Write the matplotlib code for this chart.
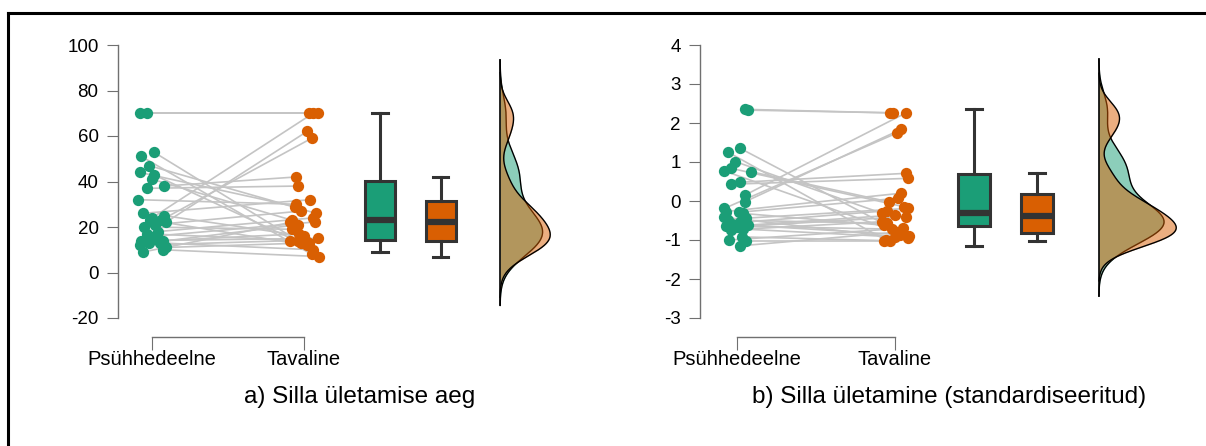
import numpy as np
import matplotlib.pyplot as plt
from matplotlib.lines import Line2D

plt.rcParams['font.family'] = ['Liberation Sans', 'DejaVu Sans']

groups = ["Psühhedeelne", "Tavaline"]
green = "#1B9E77"
orange = "#D95F02"

# ----- panel a: raw crossing time (paired per participant) -----
a_psy = [70, 70, 24, 22, 23, 53, 51, 47, 44, 43, 41, 38, 37, 32, 26,
         25, 23, 21, 20, 18, 17, 16, 14, 14, 13, 13, 12, 11, 10, 9]
a_reg = [70, 70, 70, 62, 59, 14, 8, 26, 29, 13, 23, 42, 38, 30, 32,
         16, 12, 27, 19, 24, 14, 22.2, 15, 17, 10, 21, 14, 13, 7, 22]

# ----- panel b: standardised -----
b_psy = [2.35, 2.33, 0.15, -0.02, -0.19, 1.35, 1.26, 1.01, 0.84, 0.77, 0.75, 0.48, 0.43, -0.27, -0.29,
         -0.32, -0.42, -0.44, -0.49, -0.55, -0.60, -0.62, -0.64, -0.66, -0.72, -0.74, -0.92, -1.0, -1.03, -1.15]
b_reg = [2.26, 2.26, 2.26, 1.84, 1.74, -0.84, -1.0, -0.32, -0.15, -0.9, -0.02, 0.71, 0.58, 0.2, 0.07,
         -0.62, -0.96, -0.19, -0.57, -0.25, -0.86, -0.36, -0.72, -0.40, -0.92, -0.53, -1.02, -0.70, -1.03, -0.8]

# horizontal jitter of the dots (category units)
a_jit_psy = [-0.08, -0.03, 0.00, 0.09, 0.06, 0.01, -0.07, -0.02, -0.08, 0.01, 0.00, 0.08, -0.03, -0.09, -0.06,
             0.08, -0.01, 0.02, -0.05, 0.04, -0.03, 0.02, -0.07, 0.07, 0.05, -0.02, -0.08, 0.09, 0.07, -0.06]
a_jit_reg = [0.03, 0.09, 0.06, 0.02, 0.05, -0.04, 0.05, 0.08, -0.06, -0.02, -0.08, -0.05, -0.04, -0.05, 0.04,
             0.00, 0.02, -0.02, -0.08, 0.06, 0.01, 0.07, 0.09, -0.03, 0.06, -0.04, -0.09, 0.03, 0.10, -0.09]
b_jit_psy = [0.05, 0.07, 0.05, 0.05, -0.08, 0.02, -0.06, -0.01, -0.04, -0.08, 0.09, 0.02, -0.04, -0.07, 0.01,
             0.04, -0.08, 0.06, -0.06, 0.02, -0.03, 0.07, -0.07, 0.00, 0.04, -0.04, 0.03, -0.05, 0.06, 0.02]
b_jit_reg = [-0.03, -0.01, 0.07, 0.04, 0.01, 0.05, -0.06, -0.08, 0.06, 0.09, -0.04, 0.07, 0.08, 0.04, 0.02,
             -0.07, 0.08, 0.08, -0.05, -0.05, 0.03, 0.00, -0.02, 0.07, 0.00, -0.08, -0.03, 0.05, -0.07, 0.01]

a_ticks = [-20, 0, 20, 40, 60, 80, 100]
b_ticks = [-3, -2, -1, 0, 1, 2, 3, 4]

a_title = "a) Silla ületamise aeg"
b_title = "b) Silla ületamine (standardiseeritud)"

W, H = 1206, 446
fig = plt.figure(figsize=(W / 100, H / 100), dpi=100)


def kde_nrd0(vals, n_grid=512):
    v = np.asarray(vals, float)
    q75, q25 = np.percentile(v, [75, 25])
    bw = 0.9 * min(v.std(ddof=1), (q75 - q25) / 1.34) * len(v) ** -0.2
    grid = np.linspace(v.min() - 3 * bw, v.max() + 3 * bw, n_grid)
    dens = np.exp(-0.5 * ((grid[:, None] - v[None, :]) / bw) ** 2).sum(axis=1)
    dens /= len(v) * bw * np.sqrt(2 * np.pi)
    return grid, dens


def raincloud(px_left, px_right, px_cat0, px_step, psy, reg, jp, jr, ticks, kde_w, title, title_x):
    ax = fig.add_axes([px_left / W, (H - 318) / H, (px_right - px_left) / W, 273 / H])
    x0 = (px_left - px_cat0) / px_step
    x1 = (px_right - px_cat0) / px_step
    ax.set_xlim(x0, x1)
    ax.set_ylim(ticks[0], ticks[-1])

    xp = 0 + np.array(jp)
    xr = 1 + np.array(jr)
    for i in range(len(psy)):
        ax.plot([xp[i], xr[i]], [psy[i], reg[i]], color="#c4c4c4", lw=1.2, zorder=1)
    ax.scatter(xp, psy, s=66, color=green, lw=0, zorder=3)
    ax.scatter(xr, reg, s=66, color=orange, lw=0, zorder=3)

    # boxplots
    bp = ax.boxplot([psy, reg], positions=[1.5, 1.9], widths=0.2, patch_artist=True,
                    showfliers=False, whis=1.5, manage_ticks=False,
                    boxprops=dict(edgecolor="#333333", linewidth=2.2),
                    medianprops=dict(color="#333333", linewidth=4.5),
                    whiskerprops=dict(color="#333333", linewidth=2.2),
                    capprops=dict(color="#333333", linewidth=2.2))
    for patch, c in zip(bp['boxes'], [green, orange]):
        patch.set_facecolor(c)
    for cap in bp['caps']:
        xd = cap.get_xdata()
        mid = (xd[0] + xd[1]) / 2
        cap.set_xdata([mid - 0.05, mid + 0.05])

    # half violins
    base = 2.29
    kd = [kde_nrd0(psy), kde_nrd0(reg)]
    dmax = max(d.max() for _, d in kd)
    for (g, d), c in zip(kd, [green, orange]):
        ax.fill_betweenx(g, base, base + d / dmax * kde_w, color=c, alpha=0.5, lw=0, zorder=2)
        ax.plot(base + d / dmax * kde_w, g, color="black", lw=1.0, zorder=2)
    lo = min(g.min() for g, _ in kd)
    hi = max(g.max() for g, _ in kd)
    ax.plot([base, base], [lo, hi], color="black", lw=1.2, zorder=2)

    for s in ["top", "right"]:
        ax.spines[s].set_visible(False)
    ax.spines["left"].set_bounds(ticks[0], ticks[-1])
    ax.spines["bottom"].set_position(("outward", 14))
    ax.spines["bottom"].set_bounds(0, 1)
    for s in ["left", "bottom"]:
        ax.spines[s].set_color("#707070")
        ax.spines[s].set_linewidth(1.0)
    ax.set_yticks(ticks)
    ax.set_yticklabels([str(t) for t in ticks])
    ax.set_xticks([0, 1])
    ax.set_xticklabels(groups, fontsize=14.5)
    ax.tick_params(axis="y", labelsize=13.5, length=8, color="#707070", pad=6)
    ax.tick_params(axis="x", length=9, color="#707070", pad=0)
    ax.patch.set_visible(False)

    fig.text(title_x / W, 1 - 397 / H, title, ha="center", va="center", fontsize=17.5)


raincloud(118, 560, 152, 152, a_psy, a_reg, a_jit_psy, a_jit_reg, a_ticks, 0.33, a_title, 360)
raincloud(700, 1190, 737, 158, b_psy, b_reg, b_jit_psy, b_jit_reg, b_ticks, 0.49, b_title, 949)

# outer frame (top and left edges visible)
fig.add_artist(Line2D([8 / W, 1], [1 - 12.5 / H, 1 - 12.5 / H], transform=fig.transFigure, color="black", lw=2.2))
fig.add_artist(Line2D([8 / W, 8 / W], [0, 1 - 12.5 / H], transform=fig.transFigure, color="black", lw=2.2))

plt.savefig("out.png", dpi=100)
